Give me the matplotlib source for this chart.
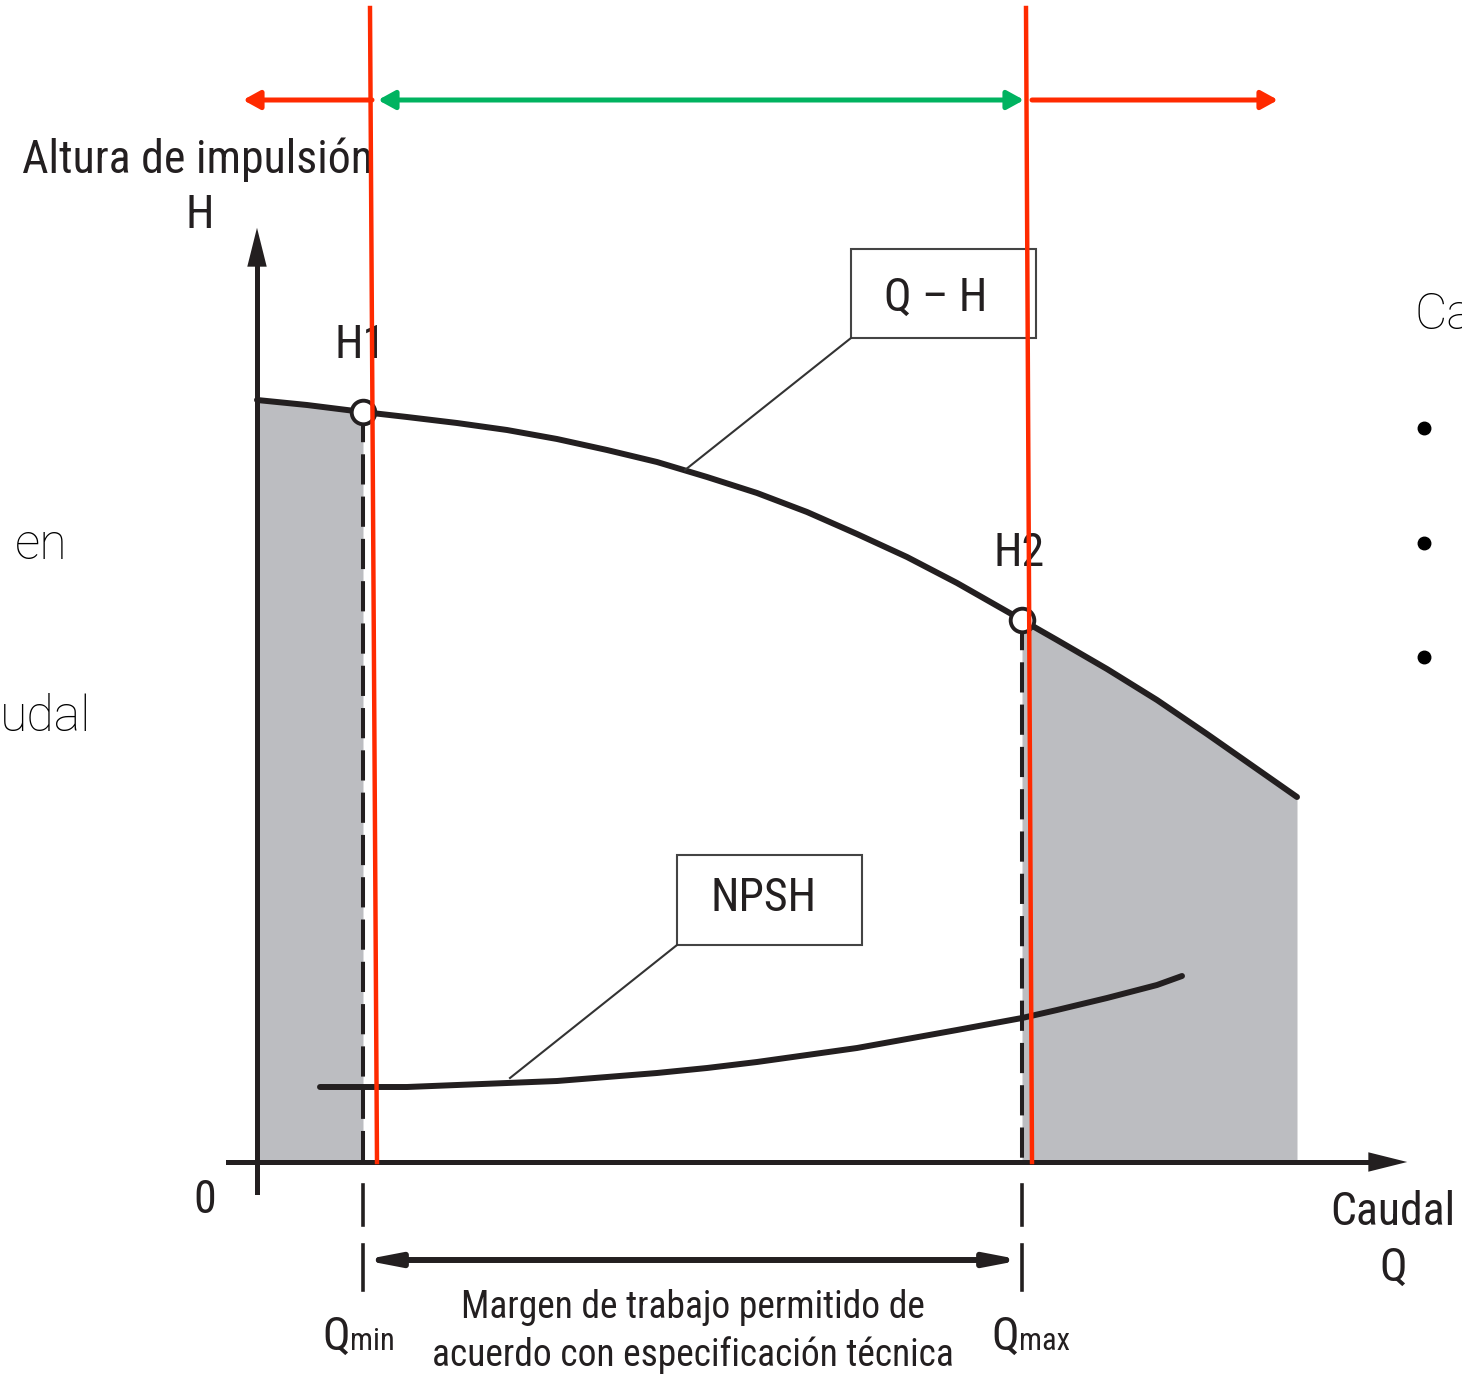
import matplotlib.pyplot as plt
import numpy as np

# curva Q-H (caudal, altura)
q_qh = [0.0, 0.5, 1.06, 1.5, 2.0, 2.5, 3.0, 3.5, 4.0, 4.5, 5.0, 5.5,
        6.0, 6.5, 7.0, 7.65, 8.0, 8.5, 9.0, 9.5, 10.0, 10.4]
h_qh = [7.62, 7.57, 7.50, 7.45, 7.39, 7.32, 7.23, 7.12, 7.00, 6.85, 6.69, 6.50,
        6.28, 6.05, 5.79, 5.42, 5.22, 4.93, 4.62, 4.28, 3.93, 3.65]

# curva NPSH
q_npsh = [0.63, 1.0, 1.5, 2.0, 2.5, 3.0, 3.5, 4.0, 4.5, 5.0, 5.5, 6.0,
          6.5, 7.0, 7.65, 8.0, 8.5, 9.0, 9.25]
h_npsh = [0.75, 0.75, 0.75, 0.77, 0.79, 0.81, 0.85, 0.89, 0.94, 1.00, 1.07, 1.14,
          1.23, 1.32, 1.44, 1.52, 1.64, 1.77, 1.86]

# puntos de trabajo
q_pts = [1.06, 7.65]   # Qmin, Qmax
h_pts = [7.50, 5.42]   # H1, H2
pt_labels = ['H1', 'H2']
q_subs = ['min', 'max']

ink = '#231f20'
grey = '#bcbdc1'
red = '#ff2a00'
green = '#00b360'
cond = ['Roboto Condensed', 'Roboto', 'DejaVu Sans']
slide = ['Roboto', 'DejaVu Sans']
fs = 33

fig = plt.figure(figsize=(14.62, 13.75), dpi=100)
ax = fig.add_axes([0, 0, 1, 1])
ax.set_xlim(-2.57, 12.05)
ax.set_ylim(-2.13, 11.62)
ax.axis('off')

q_qh = np.array(q_qh)
h_qh = np.array(h_qh)
qmin, qmax = q_pts

# zonas fuera del margen
m = q_qh <= qmin
ax.fill_between(q_qh[m], 0, h_qh[m], color=grey, lw=0, zorder=1)
m = q_qh >= qmax
ax.fill_between(q_qh[m], 0, h_qh[m], color=grey, lw=0, zorder=1)

# ejes
ax.plot([0, 0], [-0.30, 9.0], color=ink, lw=3.6, zorder=3)
ax.annotate('', xy=(0, 9.37), xytext=(0, 8.9),
            arrowprops=dict(arrowstyle='-|>,head_length=1.4,head_width=0.35',
                            mutation_scale=20, color=ink, lw=0), zorder=3)
ax.plot([-0.29, 11.2], [0, 0], color=ink, lw=3.6, zorder=3)
ax.annotate('', xy=(11.53, 0), xytext=(11.1, 0),
            arrowprops=dict(arrowstyle='-|>,head_length=1.4,head_width=0.35',
                            mutation_scale=20, color=ink, lw=0), zorder=3)

# curvas
ax.plot(q_qh, h_qh, color=ink, lw=4.3, solid_capstyle='round',
        solid_joinstyle='round', zorder=4)
ax.plot(q_npsh, h_npsh, color=ink, lw=4.3, solid_capstyle='round',
        solid_joinstyle='round', zorder=4)

# lineas discontinuas Qmin / Qmax
for q, h in zip(q_pts, h_pts):
    ax.plot([q, q], [h, 0], color=ink, lw=2.9, dashes=(7.5, 3), zorder=3)
    ax.plot([q, q], [-0.23, -0.63], color=ink, lw=2.6, zorder=3)
    ax.plot([q, q], [-0.83, -1.28], color=ink, lw=2.6, zorder=3)
ax.plot(q_pts, h_pts, 'o', ms=17, mfc='white', mec=ink, mew=2.8, zorder=5)
for q, h, t in zip(q_pts, h_pts, pt_labels):
    ax.text(q - 0.03, h + 0.67, t, fontsize=fs, family=cond, color=ink,
            ha='center', va='center', zorder=6)

# margen de trabajo
ax.annotate('', xy=(qmax, -0.98), xytext=(qmin, -0.98),
            arrowprops=dict(arrowstyle='<|-|>,head_length=1.3,head_width=0.25',
                            mutation_scale=15, color=ink, lw=4.3,
                            shrinkA=0, shrinkB=0))

# cajas de etiquetas
ax.add_patch(plt.Rectangle((5.94, 8.24), 1.85, 0.89, fill=False,
                           ec='#444444', lw=1.5, zorder=4))
ax.text(6.79, 8.64, 'Q – H', fontsize=fs, family=cond, color=ink,
        ha='center', va='center')
ax.plot([5.94, 4.28], [8.24, 6.92], color='#333333', lw=1.5, zorder=4)
ax.add_patch(plt.Rectangle((4.20, 2.17), 1.85, 0.90, fill=False,
                           ec='#444444', lw=1.5, zorder=4))
ax.text(5.07, 2.64, 'NPSH', fontsize=fs, family=cond, color=ink,
        ha='center', va='center')
ax.plot([4.20, 2.53], [2.17, 0.84], color='#333333', lw=1.5, zorder=4)

# textos de ejes
ax.text(-0.59, 10.02, 'Altura de impulsión', fontsize=fs, family=cond,
        color=ink, ha='center', va='center')
ax.text(-0.57, 9.47, 'H', fontsize=fs, family=cond, color=ink,
        ha='center', va='center')
ax.text(-0.52, -0.38, '0', fontsize=fs, family=cond, color=ink,
        ha='center', va='center')
ax.text(11.36, -0.50, 'Caudal', fontsize=fs, family=cond, color=ink,
        ha='center', va='center')
ax.text(11.36, -1.06, 'Q', fontsize=fs, family=cond, color=ink,
        ha='center', va='center')
for q, sub, dx in zip(q_pts, q_subs, [-0.13, -0.03]):
    ax.text(q + dx, -1.88, 'Q', fontsize=fs, family=cond, color=ink,
            ha='right', va='baseline')
    ax.text(q + dx, -1.88, sub, fontsize=22, family=cond, color=ink,
            ha='left', va='baseline')
ax.text(4.36, -1.45, 'Margen de trabajo permitido de', fontsize=27,
        family=cond, color=ink, ha='center', va='center')
ax.text(4.36, -1.93, 'acuerdo con especificación técnica', fontsize=27,
        family=cond, color=ink, ha='center', va='center')

# lineas rojas y flechas superiores
ax.plot([1.13, 1.20], [11.54, 0], color=red, lw=3.2, zorder=7)
ax.plot([7.69, 7.75], [11.54, 0], color=red, lw=3.2, zorder=7)
top = 10.62
ax.annotate('', xy=(-0.14, top), xytext=(1.15, top),
            arrowprops=dict(arrowstyle='-|>,head_length=1.0,head_width=0.55',
                            mutation_scale=10, color=red, lw=3.6,
                            shrinkA=0, shrinkB=0))
ax.annotate('', xy=(7.67, top), xytext=(1.21, top),
            arrowprops=dict(arrowstyle='<|-|>,head_length=1.0,head_width=0.55',
                            mutation_scale=10, color=green, lw=3.6,
                            shrinkA=0, shrinkB=0))
ax.annotate('', xy=(10.21, top), xytext=(7.75, top),
            arrowprops=dict(arrowstyle='-|>,head_length=1.0,head_width=0.55',
                            mutation_scale=10, color=red, lw=3.6,
                            shrinkA=0, shrinkB=0))

# texto de la diapositiva de fondo
ax.text(11.58, 8.47, 'Ca', fontsize=36, family=slide, fontweight='light',
        color='black', ha='left', va='center')
ax.text(-2.42, 6.17, 'en', fontsize=36, family=slide, fontweight='light',
        color='black', ha='left', va='center')
ax.text(-2.57, 4.45, 'udal', fontsize=36, family=slide, fontweight='light',
        color='black', ha='left', va='center')
ax.plot([11.67, 11.67, 11.67], [7.34, 6.19, 5.05], 'o', ms=9, color='black')

fig.savefig('out.png', dpi=100)
